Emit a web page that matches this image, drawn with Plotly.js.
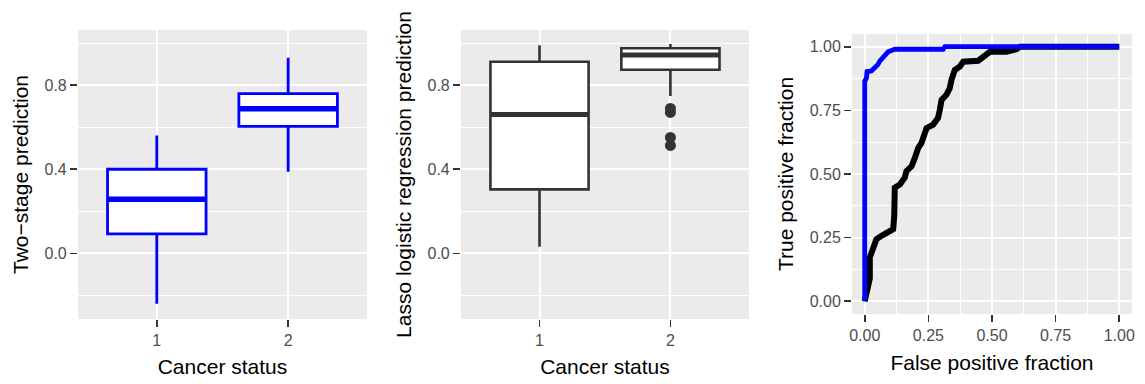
<!DOCTYPE html>
<html>
<head>
<meta charset="utf-8">
<script src="https://cdn.plot.ly/plotly-3.0.1.min.js"></script>
<style>
  html, body { margin: 0; padding: 0; background: #ffffff; }
  #chart { width: 1145px; height: 384px; }
</style>
</head>
<body>
<div id="chart"></div>
<script>
// ---------- data ----------
const categories = ['1', '2'];
const categoryPos = [1, 2];

// Two-stage prediction box statistics
const twoStageQ1 = [0.093, 0.604];
const twoStageMedian = [0.257, 0.688];
const twoStageQ3 = [0.400, 0.759];
const twoStageLower = [-0.240, 0.388];
const twoStageUpper = [0.560, 0.930];

// Lasso logistic regression prediction box statistics
const lassoQ1 = [0.304, 0.873];
const lassoMedian = [0.660, 0.943];
const lassoQ3 = [0.911, 0.975];
const lassoLower = [0.031, 0.748];
const lassoUpper = [0.990, 0.995];
const lassoOutlierX = [2, 2, 2, 2];
const lassoOutlierY = [0.689, 0.670, 0.551, 0.513];

// ROC curves
const rocTwoStageFPF = [0, 0, 0.007, 0.009, 0.026, 0.039, 0.052, 0.059, 0.072, 0.083, 0.092, 0.105, 0.118, 0.308, 0.315, 1.0];
const rocTwoStageTPF = [0, 0.864, 0.878, 0.902, 0.905, 0.915, 0.930, 0.943, 0.960, 0.971, 0.980, 0.985, 0.990, 0.990, 1.0, 1.0];

const rocLassoFPF = [0, 0.008, 0.013, 0.020, 0.020, 0.033, 0.046, 0.066, 0.092, 0.112, 0.116, 0.118, 0.138, 0.157, 0.164, 0.184, 0.197, 0.210, 0.223, 0.236, 0.243, 0.269, 0.288, 0.295, 0.302, 0.321, 0.334, 0.341, 0.354, 0.374, 0.387, 0.446, 0.459, 0.479, 0.492, 0.557, 0.596, 0.610, 1.0];
const rocLassoTPF = [0, 0.030, 0.065, 0.090, 0.172, 0.218, 0.244, 0.257, 0.272, 0.283, 0.335, 0.446, 0.459, 0.485, 0.511, 0.530, 0.563, 0.602, 0.622, 0.655, 0.680, 0.694, 0.720, 0.752, 0.791, 0.811, 0.837, 0.870, 0.909, 0.922, 0.941, 0.945, 0.955, 0.968, 0.980, 0.980, 0.990, 1.0, 1.0];

const boxTickVals = [0, 0.4, 0.8];
const boxMinorVals = [-0.2, 0.2, 0.6, 1.0];
const rocTickVals = [0, 0.25, 0.5, 0.75, 1.0];
const rocMinorVals = [0.125, 0.375, 0.625, 0.875];

// ---------- helpers ----------
const BOX_W = 0.75;
function medianSegments(pos, med) {
  const xs = [], ys = [];
  pos.forEach((p, i) => {
    xs.push(p - BOX_W / 2, p + BOX_W / 2, null);
    ys.push(med[i], med[i], null);
  });
  return { x: xs, y: ys };
}

const FONT = 'Liberation Sans, Arial, Helvetica, sans-serif';
const TICKFONT = { family: FONT, size: 16, color: '#4D4D4D' };
const TITLEFONT = { family: FONT, size: 21, color: '#000000' };

function baseAxis(extra) {
  return Object.assign({
    showgrid: true,
    gridcolor: '#FFFFFF',
    gridwidth: 2,
    zeroline: false,
    showline: false,
    ticks: 'outside',
    ticklen: 7,
    tickwidth: 1.6,
    tickcolor: '#333333',
    tickfont: TICKFONT,
    fixedrange: true
  }, extra);
}

const m1 = medianSegments(categoryPos, twoStageMedian);
const m2 = medianSegments(categoryPos, lassoMedian);

const traces = [
  {
    type: 'box', x: categoryPos,
    q1: twoStageQ1, median: twoStageMedian, q3: twoStageQ3,
    lowerfence: twoStageLower, upperfence: twoStageUpper,
    width: BOX_W, whiskerwidth: 0, fillcolor: '#FFFFFF',
    line: { color: '#0000FF', width: 2.8 }, boxpoints: false,
    xaxis: 'x', yaxis: 'y', showlegend: false, hoverinfo: 'skip'
  },
  {
    type: 'scatter', mode: 'lines', x: m1.x, y: m1.y,
    line: { color: '#0000FF', width: 5.5 },
    xaxis: 'x', yaxis: 'y', showlegend: false, hoverinfo: 'skip'
  },
  {
    type: 'box', x: categoryPos,
    q1: lassoQ1, median: lassoMedian, q3: lassoQ3,
    lowerfence: lassoLower, upperfence: lassoUpper,
    width: BOX_W, whiskerwidth: 0, fillcolor: '#FFFFFF',
    line: { color: '#333333', width: 2.6 }, boxpoints: false,
    xaxis: 'x2', yaxis: 'y2', showlegend: false, hoverinfo: 'skip'
  },
  {
    type: 'scatter', mode: 'lines', x: m2.x, y: m2.y,
    line: { color: '#333333', width: 5 },
    xaxis: 'x2', yaxis: 'y2', showlegend: false, hoverinfo: 'skip'
  },
  {
    type: 'scatter', mode: 'markers', x: lassoOutlierX, y: lassoOutlierY,
    marker: { color: '#333333', size: 11 },
    xaxis: 'x2', yaxis: 'y2', showlegend: false, hoverinfo: 'skip'
  },
  {
    type: 'scatter', mode: 'lines', x: rocLassoFPF, y: rocLassoTPF,
    line: { color: '#000000', width: 6 },
    xaxis: 'x3', yaxis: 'y3', showlegend: false, hoverinfo: 'skip'
  },
  {
    type: 'scatter', mode: 'lines', x: rocTwoStageFPF, y: rocTwoStageTPF,
    line: { color: '#0000FF', width: 4.8 },
    xaxis: 'x3', yaxis: 'y3', showlegend: false, hoverinfo: 'skip'
  }
];

const boxMinor = { tickvals: boxMinorVals, showgrid: true, gridcolor: '#FFFFFF', gridwidth: 1, ticks: '' };
const rocMinor = { tickvals: rocMinorVals, showgrid: true, gridcolor: '#FFFFFF', gridwidth: 1, ticks: '' };

const layout = {
  width: 1145, height: 384,
  margin: { l: 0, r: 0, t: 0, b: 0, pad: 0 },
  paper_bgcolor: '#FFFFFF',
  plot_bgcolor: '#EBEBEB',
  showlegend: false,
  xaxis: baseAxis({
    domain: [0.0681, 0.3205], anchor: 'y', range: [0.4, 2.6],
    tickmode: 'array', tickvals: categoryPos, ticktext: categories,
    title: { text: 'Cancer status', font: TITLEFONT, standoff: 11 }
  }),
  yaxis: baseAxis({
    domain: [0.1693, 0.9219], anchor: 'x', range: [-0.312, 1.062],
    tickmode: 'array', tickvals: boxTickVals, ticktext: boxTickVals.map(v => v.toFixed(1)),
    minor: boxMinor,
    title: { text: 'Two\u2212stage prediction', font: TITLEFONT, standoff: 10 }
  }),
  xaxis2: baseAxis({
    domain: [0.4026, 0.6541], anchor: 'y2', range: [0.4, 2.6],
    tickmode: 'array', tickvals: categoryPos, ticktext: categories,
    title: { text: 'Cancer status', font: TITLEFONT, standoff: 11 }
  }),
  yaxis2: baseAxis({
    domain: [0.1693, 0.9219], anchor: 'x2', range: [-0.312, 1.062],
    tickmode: 'array', tickvals: boxTickVals, ticktext: boxTickVals.map(v => v.toFixed(1)),
    minor: boxMinor,
    title: { text: 'Lasso logistic regression prediction', font: TITLEFONT, standoff: 10 }
  }),
  xaxis3: baseAxis({
    domain: [0.7441, 0.9886], anchor: 'y3', range: [-0.05, 1.05],
    tickmode: 'array', tickvals: rocTickVals, ticktext: rocTickVals.map(v => v.toFixed(2)),
    minor: rocMinor,
    title: { text: 'False positive fraction', font: TITLEFONT, standoff: 12 }
  }),
  yaxis3: baseAxis({
    domain: [0.1823, 0.9115], anchor: 'x3', range: [-0.05, 1.05],
    tickmode: 'array', tickvals: rocTickVals, ticktext: rocTickVals.map(v => v.toFixed(2)),
    minor: rocMinor,
    title: { text: 'True positive fraction', font: TITLEFONT, standoff: 10 }
  })
};

Plotly.newPlot('chart', traces, layout, { displayModeBar: false, staticPlot: true });
</script>
</body>
</html>
